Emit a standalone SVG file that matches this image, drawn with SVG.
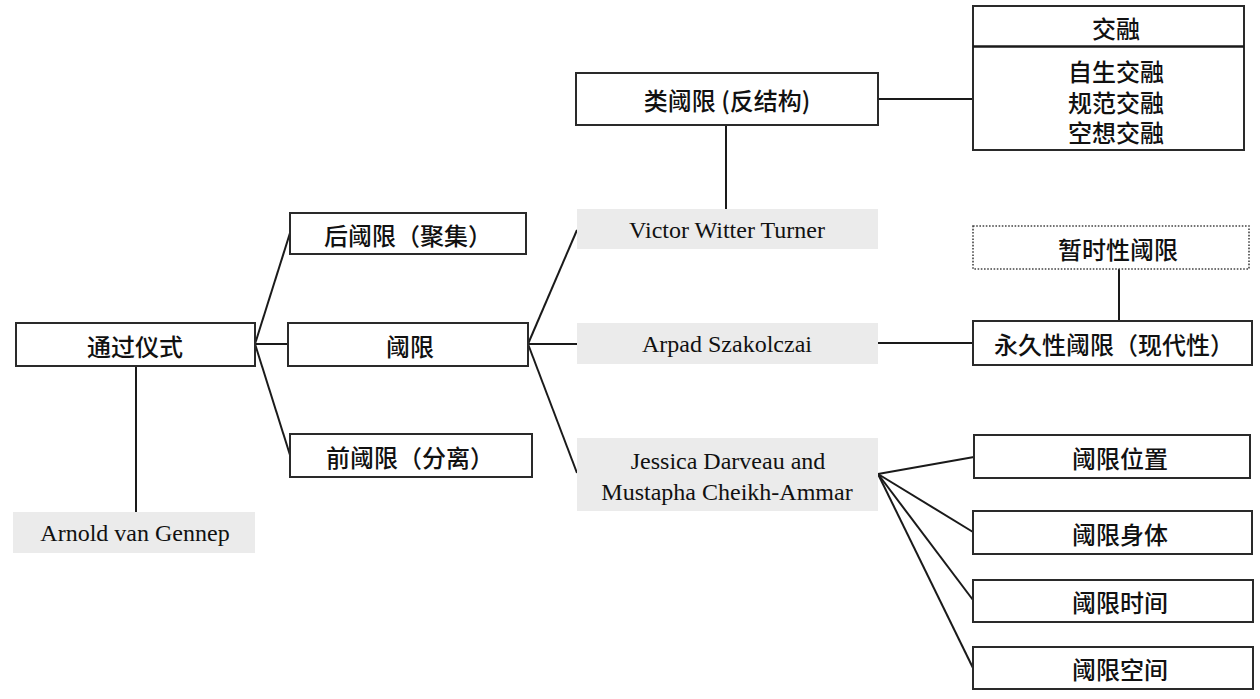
<svg xmlns="http://www.w3.org/2000/svg" width="1260" height="699" viewBox="0 0 1260 699">
<style>
.box{fill:#fff;stroke:#2a2a2a;stroke-width:2}
.gray{fill:#ebebeb;stroke:none}
.dot{fill:#fff;stroke:#444;stroke-width:1.6;stroke-dasharray:1.6 1.6}
.cn{font-family:"Noto Sans CJK SC","Noto Sans CJK JP",sans-serif;font-size:24px;font-weight:500;fill:#111;text-anchor:middle;dominant-baseline:central}
.en{font-family:"Liberation Serif","Times New Roman",serif;font-size:24px;fill:#111;text-anchor:middle}
.conn line{stroke:#1a1a1a;stroke-width:2;fill:none}
</style>
<rect width="1260" height="699" fill="#fff"/>
<g class="conn" id="connectors">
<line x1="136" y1="366" x2="136" y2="512"/>
<line x1="255" y1="344" x2="290" y2="233"/>
<line x1="255" y1="344" x2="288" y2="344"/>
<line x1="255" y1="344" x2="290" y2="455"/>
<line x1="528" y1="344" x2="577" y2="230"/>
<line x1="528" y1="344" x2="577" y2="344"/>
<line x1="528" y1="344" x2="577" y2="473"/>
<line x1="726" y1="125" x2="726" y2="209"/>
<line x1="878" y1="99" x2="973" y2="99"/>
<line x1="878" y1="343" x2="973" y2="343"/>
<line x1="1119" y1="269" x2="1119" y2="321"/>
<line x1="878" y1="474" x2="974" y2="457"/>
<line x1="878" y1="474" x2="973" y2="532"/>
<line x1="878" y1="474" x2="973" y2="600"/>
<line x1="878" y1="474" x2="973" y2="668"/>
</g>
<g id="n-tongguo"><rect class="box" x="16" y="323" width="239" height="43"/><text class="cn" x="135" y="345">通过仪式</text></g>
<g id="n-gennep"><rect class="gray" x="13" y="512" width="242" height="41"/><text class="en" x="135" y="541">Arnold van Gennep</text></g>
<g id="n-hou"><rect class="box" x="290" y="213" width="236" height="41"/><text class="cn" x="408" y="234">后阈限（聚集）</text></g>
<g id="n-yuxian"><rect class="box" x="288" y="323" width="240" height="43"/><text class="cn" x="410" y="345">阈限</text></g>
<g id="n-qian"><rect class="box" x="290" y="434" width="242" height="43"/><text class="cn" x="410" y="456">前阈限（分离）</text></g>
<g id="n-lei"><rect class="box" x="576" y="73" width="302" height="52"/><text class="cn" x="727" y="99">类阈限 (反结构)</text></g>
<g id="n-turner"><rect class="gray" x="577" y="209" width="301" height="40"/><text class="en" x="727" y="238">Victor Witter Turner</text></g>
<g id="n-arpad"><rect class="gray" x="577" y="323" width="301" height="41"/><text class="en" x="727" y="352">Arpad Szakolczai</text></g>
<g id="n-jessica"><rect class="gray" x="577" y="438" width="301" height="73"/><text class="en" x="728" y="469">Jessica Darveau and<tspan x="727" y="500">Mustapha Cheikh-Ammar</tspan></text></g>
<g id="n-jiaorong"><rect class="box" x="973" y="6" width="271" height="144"/><line x1="973" y1="46.5" x2="1244" y2="46.5" stroke="#1a1a1a" stroke-width="2.5"/><text class="cn" x="1116" y="27">交融</text><text class="cn" x="1116" y="70">自生交融<tspan x="1116" y="101">规范交融</tspan><tspan x="1116" y="131">空想交融</tspan></text></g>
<g id="n-zanshi"><rect class="dot" x="973" y="226" width="276" height="43"/><text class="cn" x="1118" y="248">暂时性阈限</text></g>
<g id="n-yongjiu"><rect class="box" x="973" y="321" width="279" height="44"/><text class="cn" x="1114" y="343">永久性阈限（现代性）</text></g>
<g id="n-weizhi"><rect class="box" x="974" y="435" width="276" height="43"/><text class="cn" x="1120" y="457">阈限位置</text></g>
<g id="n-shenti"><rect class="box" x="973" y="511" width="279" height="43"/><text class="cn" x="1120" y="533">阈限身体</text></g>
<g id="n-shijian"><rect class="box" x="973" y="580" width="280" height="42"/><text class="cn" x="1120" y="601">阈限时间</text></g>
<g id="n-kongjian"><rect class="box" x="973" y="647" width="280" height="42"/><text class="cn" x="1120" y="668">阈限空间</text></g>
</svg>
